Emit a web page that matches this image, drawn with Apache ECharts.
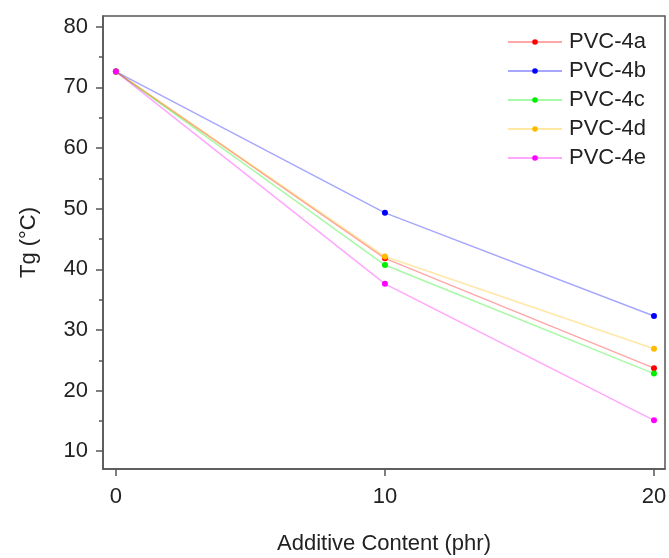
<!DOCTYPE html>
<html>
<head>
<meta charset="utf-8">
<script src="https://cdn.jsdelivr.net/npm/echarts@6/dist/echarts.min.js"></script>
<style>html,body{margin:0;padding:0;background:#fff}#c{width:669px;height:558px}</style>
</head>
<body>
<div id="c"></div>
<script>
var additive = [0, 10, 20];
var seriesNames = ['PVC-4a', 'PVC-4b', 'PVC-4c', 'PVC-4d', 'PVC-4e'];
var pvc4a = [72.6, 41.8, 23.7];
var pvc4b = [72.6, 49.3, 32.3];
var pvc4c = [72.6, 40.7, 22.8];
var pvc4d = [72.6, 42.1, 26.9];
var pvc4e = [72.6, 37.6, 15.1];
var xTicks = [0, 10, 20];
var yTicks = [10, 20, 30, 40, 50, 60, 70, 80];
var yMinorTicks = [15, 25, 35, 45, 55, 65, 75];
var colors = ['#ff0000', '#0000ff', '#00ee00', '#ffbb00', '#ff00ff'];
var values = [pvc4a, pvc4b, pvc4c, pvc4d, pvc4e];

var font = 'Liberation Sans, Arial, sans-serif';
var chart = echarts.init(document.getElementById('c'), null, {renderer: 'canvas'});
var series = seriesNames.map(function (n, i) {
  return {
    name: n,
    type: 'line',
    data: additive.map(function (x, j) { return [x, values[i][j]]; }),
    symbol: 'circle',
    symbolSize: 6,
    itemStyle: {color: colors[i]},
    lineStyle: {color: colors[i], opacity: 0.35, width: 1.5},
    emphasis: {disabled: true},
    z: 3
  };
});
chart.setOption({
  animation: false,
  backgroundColor: '#fff',
  grid: {left: 103, right: 4, top: 16, bottom: 89, outerBoundsMode: 'none', containLabel: false,
    show: true, borderColor: '#555', borderWidth: 1.5, backgroundColor: 'transparent'},
  legend: {
    orient: 'vertical', left: 502, top: 26,
    itemWidth: 54, itemHeight: 7, itemGap: 7,
    textStyle: {fontFamily: font, fontSize: 22, color: '#222', padding: [0, 0, 0, 2]},
    data: seriesNames
  },
  xAxis: {
    type: 'value', min: -0.48, max: 20.41,
    name: 'Additive Content (phr)', nameLocation: 'middle', nameGap: 64, nameMoveOverlap: false,
    nameTextStyle: {fontFamily: font, fontSize: 22, color: '#222'},
    axisLine: {show: true, onZero: false, lineStyle: {color: '#555', width: 1.5}},
    axisTick: {show: true, length: 7, customValues: xTicks, lineStyle: {color: '#555', width: 1.5}},
    axisLabel: {customValues: xTicks, fontFamily: font, fontSize: 22, color: '#222', margin: 17},
    splitLine: {show: false}
  },
  yAxis: [{
    type: 'value', min: 7.07, max: 81.76,
    name: 'Tg (°C)', nameLocation: 'middle', nameGap: 63, nameMoveOverlap: false,
    nameTextStyle: {fontFamily: font, fontSize: 22, color: '#222'},
    axisLine: {show: true, onZero: false, lineStyle: {color: '#555', width: 1.5}},
    axisTick: {show: true, length: 7, customValues: yTicks, lineStyle: {color: '#555', width: 1.5}},
    axisLabel: {customValues: yTicks, fontFamily: font, fontSize: 22, color: '#222', margin: 15},
    splitLine: {show: false}
  }, {
    type: 'value', min: 7.07, max: 81.76, position: 'left',
    axisLine: {show: false, onZero: false},
    axisTick: {show: true, length: 4, customValues: yMinorTicks, lineStyle: {color: '#555', width: 1.5}},
    axisLabel: {show: false},
    splitLine: {show: false}
  }],
  series: series
});
</script>
</body>
</html>
